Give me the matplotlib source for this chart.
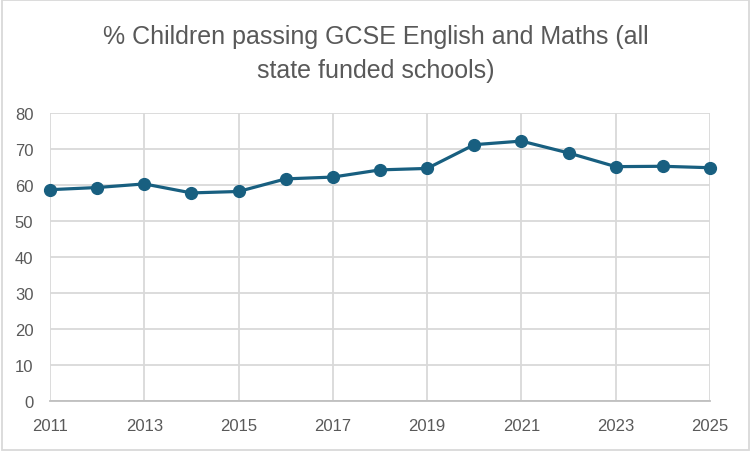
import matplotlib.pyplot as plt
from matplotlib.patches import Rectangle

years = [2011, 2012, 2013, 2014, 2015, 2016, 2017, 2018,
         2019, 2020, 2021, 2022, 2023, 2024, 2025]
pass_rate = [58.7, 59.3, 60.3, 57.8, 58.2, 61.7, 62.2, 64.2,
             64.6, 71.2, 72.2, 68.9, 65.1, 65.2, 64.8]
x_ticks = list(range(2011, 2026, 2))
y_ticks = list(range(0, 81, 10))
title = "% Children passing GCSE English and Maths (all\nstate funded schools)"

plt.rcParams['font.family'] = ['Liberation Sans', 'DejaVu Sans']

grey = '#595959'
fig = plt.figure(figsize=(7.51, 4.52), dpi=100)
ax = fig.add_axes([50 / 751, 1 - 402 / 452, 660 / 751, 288 / 452])

ax.plot(years, pass_rate, color='#185f80', linewidth=2.3,
        marker='o', markersize=8.5, zorder=3, clip_on=False)

ax.set_xlim(2011, 2025)
ax.set_ylim(0, 80)
ax.set_xticks(x_ticks)
ax.set_yticks(y_ticks)
ax.grid(True, color='#d9d9d9', linewidth=1.3)
ax.set_axisbelow(True)
for side in ['top', 'right', 'left']:
    ax.spines[side].set_visible(False)
ax.spines['bottom'].set_color('#bfbfbf')
ax.spines['bottom'].set_linewidth(1.3)
ax.tick_params(length=0, colors=grey, labelsize=12)
ax.tick_params(axis='x', pad=12)
ax.tick_params(axis='y', pad=12)

fig.text(0.5, 1 - 54 / 452, title, ha='center', va='center', fontsize=18,
         color=grey, linespacing=1.55)

# chart border
fig.patches.append(Rectangle((0.002, 0.003), 0.996, 0.994, transform=fig.transFigure,
                             fill=False, edgecolor='#d9d9d9', linewidth=1.3))

fig.savefig('out.png', dpi=100)
